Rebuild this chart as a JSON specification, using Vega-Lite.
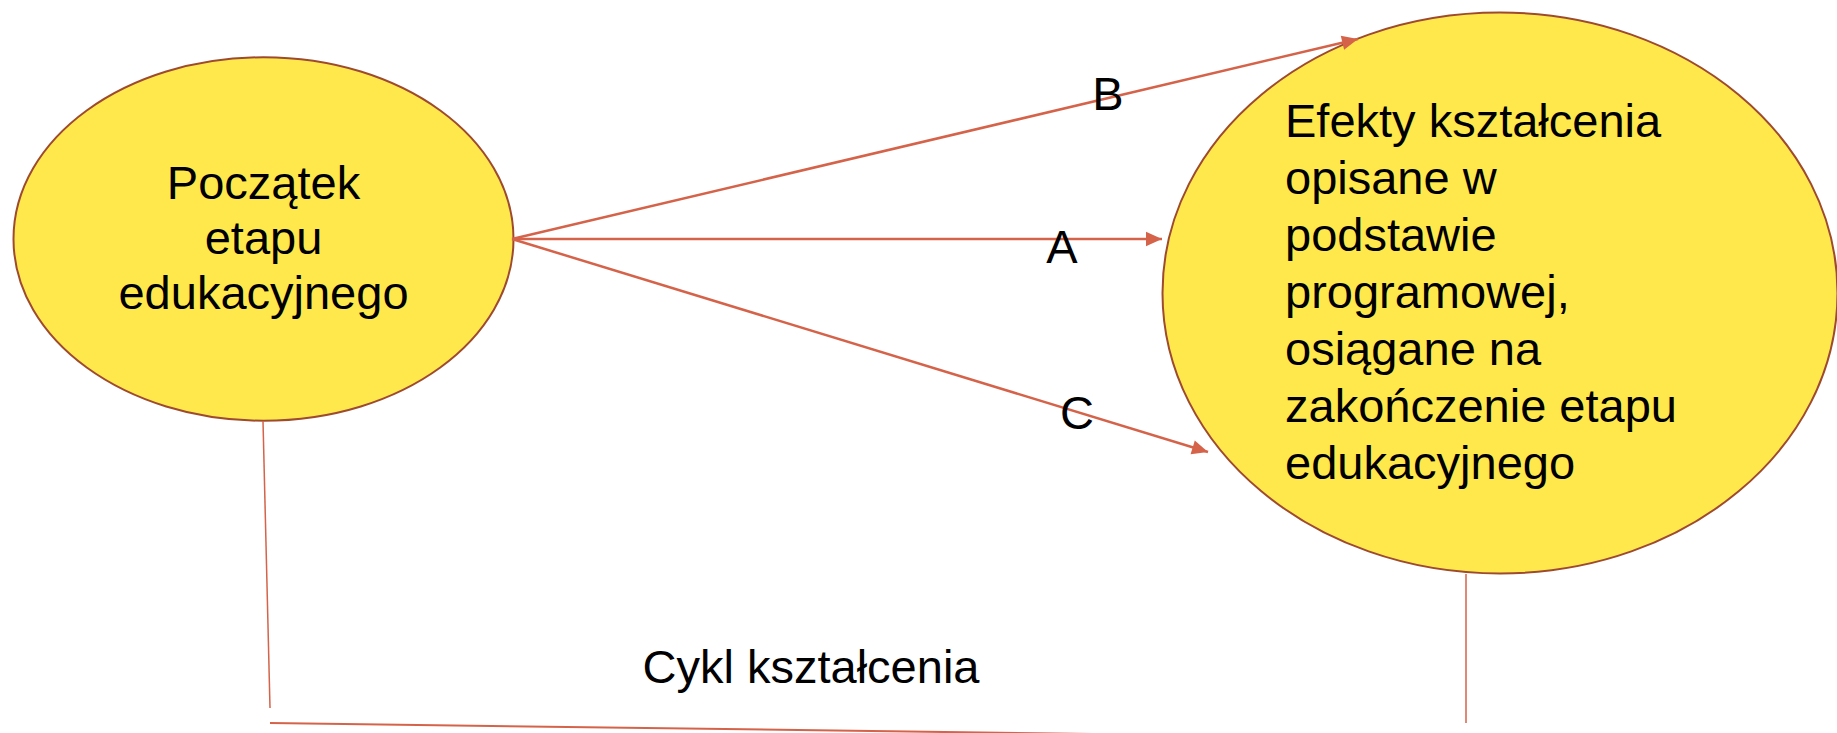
{
  "$schema": "https://vega.github.io/schema/vega-lite/v6.json",
  "width": 1837,
  "height": 733,
  "autosize": {"type": "fit", "contains": "padding"},
  "padding": 0,
  "background": "white",
  "config": {"view": {"stroke": null}},
  "encoding": {
    "x": {"type": "quantitative", "scale": {"domain": [0, 1837], "nice": false, "zero": false}, "axis": null},
    "y": {"type": "quantitative", "scale": {"domain": [0, 733], "nice": false, "zero": false, "reverse": true}, "axis": null}
  },
  "layer": [
    {
      "data": {"values": [{"node": "Początek etapu edukacyjnego", "cx": 263.5, "cy": 239}]},
      "mark": {"type": "point", "clip": true, "shape": "M-1,0A1,0.727,0,1,1,1,0A1,0.727,0,1,1,-1,0Z", "size": 250000, "filled": true, "fill": "#FFE84B", "stroke": "#9E4A2E", "strokeWidth": 2, "opacity": 1},
      "encoding": {"x": {"field": "cx"}, "y": {"field": "cy"}}
    },
    {
      "data": {"values": [{"node": "Efekty kształcenia", "cx": 1500, "cy": 293}]},
      "mark": {"type": "point", "clip": true, "shape": "M-1,0A1,0.831,0,1,1,1,0A1,0.831,0,1,1,-1,0Z", "size": 455625, "filled": true, "fill": "#FFE84B", "stroke": "#9E4A2E", "strokeWidth": 2, "opacity": 1},
      "encoding": {"x": {"field": "cx"}, "y": {"field": "cy"}}
    },
    {
      "data": {"values": [
        {"part": "left", "x1": 263, "y1": 421, "x2": 270, "y2": 708},
        {"part": "right", "x1": 1466, "y1": 574, "x2": 1466, "y2": 723}
      ]},
      "mark": {"type": "rule", "clip": true, "color": "#D5634A", "strokeWidth": 1.5},
      "encoding": {"x": {"field": "x1"}, "y": {"field": "y1"}, "x2": {"field": "x2"}, "y2": {"field": "y2"}}
    },
    {
      "data": {"values": [
        {"part": "bottom", "x1": 270, "y1": 723, "x2": 1466, "y2": 739}
      ]},
      "mark": {"type": "rule", "clip": true, "color": "#D5634A", "strokeWidth": 2},
      "encoding": {"x": {"field": "x1"}, "y": {"field": "y1"}, "x2": {"field": "x2"}, "y2": {"field": "y2"}}
    },
    {
      "data": {"name": "arrows", "values": [
        {"path": "A", "x1": 512, "y1": 239, "x2": 1162, "y2": 239, "angle": 0},
        {"path": "B", "x1": 512, "y1": 239, "x2": 1358, "y2": 39, "angle": -13.4},
        {"path": "C", "x1": 512, "y1": 239, "x2": 1208, "y2": 452, "angle": 17}
      ]},
      "layer": [
        {
          "mark": {"type": "rule", "color": "#D5634A", "strokeWidth": 2.5},
          "encoding": {"x": {"field": "x1"}, "y": {"field": "y1"}, "x2": {"field": "x2"}, "y2": {"field": "y2"}}
        },
        {
          "mark": {"type": "point", "shape": "M0,0L-2,-0.9L-2,0.9Z", "size": 256, "filled": true, "fill": "#D5634A", "strokeWidth": 0, "opacity": 1},
          "encoding": {"x": {"field": "x2"}, "y": {"field": "y2"}, "angle": {"field": "angle", "type": "quantitative", "scale": null}}
        }
      ]
    },
    {
      "data": {"values": [
        {"t": "Początek\netapu\nedukacyjnego", "x": 263.5, "y": 199}
      ]},
      "mark": {"type": "text", "align": "center", "baseline": "alphabetic", "font": "Liberation Sans", "fontSize": 47, "lineHeight": 55, "lineBreak": "\n", "color": "black"},
      "encoding": {"x": {"field": "x"}, "y": {"field": "y"}, "text": {"field": "t"}}
    },
    {
      "data": {"values": [
        {"t": "Efekty kształcenia\nopisane w\npodstawie\nprogramowej,\nosiągane na\nzakończenie etapu\nedukacyjnego", "x": 1285, "y": 137}
      ]},
      "mark": {"type": "text", "align": "left", "baseline": "alphabetic", "font": "Liberation Sans", "fontSize": 47, "lineHeight": 57, "lineBreak": "\n", "color": "black"},
      "encoding": {"x": {"field": "x"}, "y": {"field": "y"}, "text": {"field": "t"}}
    },
    {
      "data": {"values": [
        {"t": "B", "x": 1108, "y": 110},
        {"t": "A", "x": 1062, "y": 262.5},
        {"t": "C", "x": 1077, "y": 428.5},
        {"t": "Cykl kształcenia", "x": 811, "y": 682.5}
      ]},
      "mark": {"type": "text", "align": "center", "baseline": "alphabetic", "font": "Liberation Sans", "fontSize": 47, "color": "black"},
      "encoding": {"x": {"field": "x"}, "y": {"field": "y"}, "text": {"field": "t"}}
    }
  ]
}
